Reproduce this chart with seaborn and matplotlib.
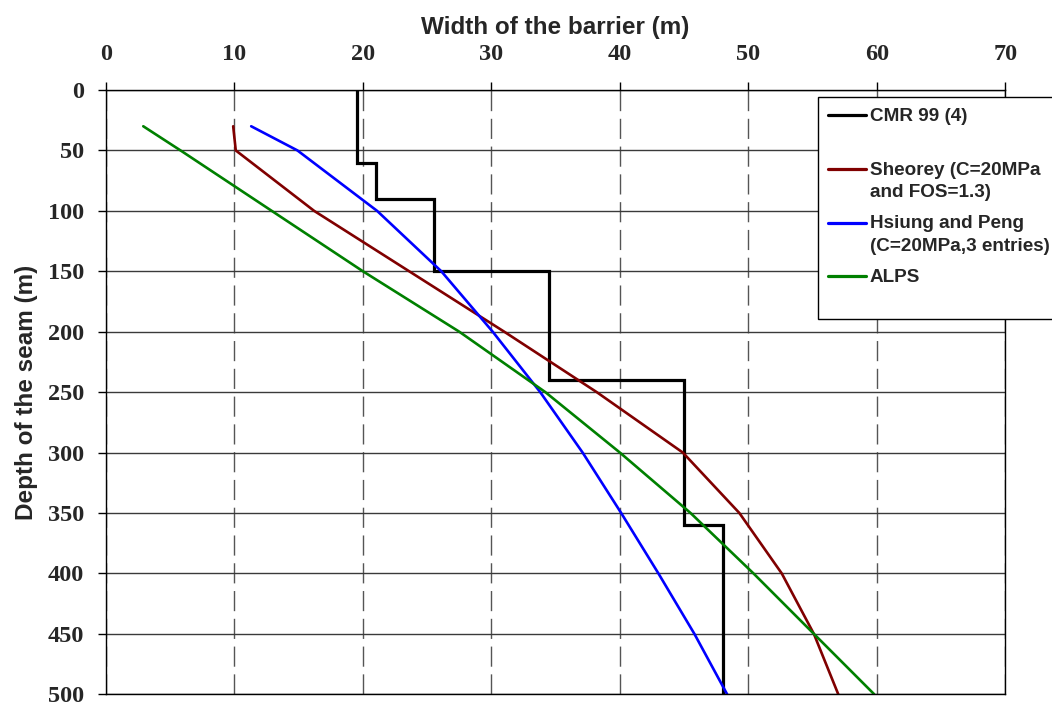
import numpy as np
import pandas as pd
import matplotlib
matplotlib.use("Agg")
import matplotlib.pyplot as plt
import seaborn as sns

# ---------------- data ----------------
# CMR 99 (4): stepped recommendation
cmr_depth_breaks = [0, 60, 90, 150, 240, 360, 500]
cmr_width = [19.5, 21.0, 25.5, 34.5, 45.0, 48.0]

depth = [30, 50, 100, 150, 200, 250, 300, 350, 400, 450, 500]
sheorey_width = [9.9, 10.1, 16.2, 23.6, 31.0, 38.2, 44.9, 49.3, 52.6, 55.1, 57.0]
hsiung_width = [11.3, 14.9, 21.1, 26.1, 30.1, 33.8, 37.1, 40.1, 43.0, 45.8, 48.35]
alps_width = [2.9, 5.8, 12.9, 20.0, 27.5, 34.2, 40.0, 45.5, 50.4, 55.1, 59.8]

labels = ["CMR 99 (4)\n ",
          "Sheorey (C=20MPa\nand FOS=1.3)",
          "Hsiung and Peng\n(C=20MPa,3 entries)",
          "ALPS\n "]
colors = ["#000000", "#800000", "#0000FF", "#008000"]

x_ticks = list(range(0, 71, 10))
y_ticks = list(range(0, 501, 50))
x_label = "Width of the barrier (m)"
y_label = "Depth of the seam (m)"

# ---------------- build step path for CMR ----------------
cmr_x, cmr_y = [], []
for i, w in enumerate(cmr_width):
    cmr_x += [w, w]
    cmr_y += [cmr_depth_breaks[i], cmr_depth_breaks[i + 1]]
cmr_df = pd.DataFrame({"width": cmr_x, "depth": cmr_y})
curves = pd.DataFrame({"depth": depth, "sheorey": sheorey_width,
                       "hsiung": hsiung_width, "alps": alps_width})

# ---------------- style ----------------
sns.set_style("white")
plt.rcParams["font.family"] = ["Liberation Sans", "DejaVu Sans"]

fig = plt.figure(figsize=(10.52, 7.04), dpi=100)
W, H = 1052, 704
ax = fig.add_axes([106 / W, 1 - 694.3 / H, (1005.3 - 106) / W, (694.3 - 90) / H])

sns.lineplot(data=cmr_df, x="width", y="depth", sort=False, estimator=None,
             color=colors[0], linewidth=2.3, ax=ax, legend=False,
             solid_joinstyle="miter")
sns.lineplot(data=curves, x="sheorey", y="depth", sort=False, estimator=None,
             color=colors[1], linewidth=1.9, ax=ax, legend=False)
sns.lineplot(data=curves, x="hsiung", y="depth", sort=False, estimator=None,
             color=colors[2], linewidth=1.9, ax=ax, legend=False)
sns.lineplot(data=curves, x="alps", y="depth", sort=False, estimator=None,
             color=colors[3], linewidth=1.9, ax=ax, legend=False)

ax.set_xlim(0, 70)
ax.set_ylim(500, 0)
ax.set_xticks(x_ticks)
ax.set_yticks(y_ticks)

ax.xaxis.tick_top()
ax.xaxis.set_label_position("top")
ax.tick_params(axis="x", top=True, bottom=False, labeltop=True, labelbottom=False,
               length=6, width=1, pad=12, direction="out", color="black")
ax.tick_params(axis="y", left=True, length=6, width=1, pad=10, direction="out",
               color="black")
for lab in ax.get_xticklabels() + ax.get_yticklabels():
    lab.set_fontfamily("Liberation Serif")
    lab.set_fontweight("bold")
    lab.set_fontsize(17.5)

ax.set_xlabel(x_label, fontsize=17.5, fontweight="bold", labelpad=7)
ax.set_ylabel(y_label, fontsize=17.5, fontweight="bold", labelpad=7)

ax.set_axisbelow(True)
ax.yaxis.grid(True, color="#3a3a3a", linewidth=1.0, linestyle="-")
ax.xaxis.grid(True, color="#555555", linewidth=1.0, linestyle=(0, (14.5, 5.5)))
for s in ax.spines.values():
    s.set_visible(True)
    s.set_color("black")
    s.set_linewidth(1.0)

# ---------------- legend ----------------
handles = ax.get_lines()[:4]
leg = ax.legend(handles, labels, loc="upper left",
                bbox_to_anchor=(817.7 / W, 1 - 97.3 / H),
                bbox_transform=fig.transFigure, borderaxespad=0,
                prop={"family": "Liberation Sans", "weight": "bold", "size": 13.6},
                frameon=True, fancybox=False, framealpha=1, edgecolor="black",
                handlelength=2.0, handletextpad=0.2, borderpad=0.55,
                labelspacing=0.76)
for t in leg.get_texts():
    t.set_linespacing(1.42)
leg.get_frame().set_linewidth(1.0)
leg.set_zorder(10)
shift = 8.9
for h in leg.legend_handles:
    h.set_ydata(np.asarray(h.get_ydata(), dtype=float) + shift)
    h.set_linewidth(2.3)

fig.savefig("out.png", dpi=100)
